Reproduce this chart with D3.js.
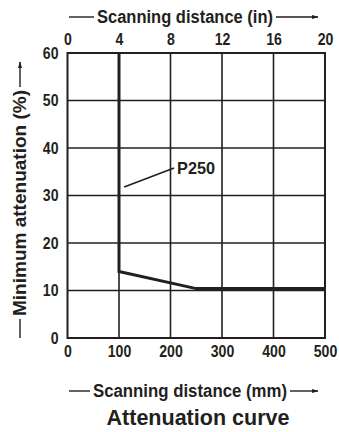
<!DOCTYPE html>
<html>
<head>
<meta charset="utf-8">
<script src="https://cdn.jsdelivr.net/npm/d3@7"></script>
<style>
  body { margin: 0; background: #fff; }
  text { font-family: "Liberation Sans", Arial, sans-serif; font-weight: bold; fill: #231f20; }
</style>
</head>
<body>
<div id="chart"></div>
<script>
// data
const mmTicks = [0, 100, 200, 300, 400, 500];
const inTicks = [0, 4, 8, 12, 16, 20];
const pctTicks = [0, 10, 20, 30, 40, 50, 60];
const curveX = [100, 100, 250, 500];
const curveY = [60, 14, 10.4, 10.4];
const labelName = "P250";
const leaderX = [110, 207];
const leaderY = [31.8, 35.8];

const width = 339, height = 432;
const margin = {top: 53, right: 14, bottom: 94, left: 67.5};
const innerW = width - margin.left - margin.right;
const innerH = height - margin.top - margin.bottom;
const ink = "#231f20";

const svg = d3.select('#chart')
    .append('svg')
    .attr('width', width)
    .attr('height', height);

// arrow head
svg.append('defs').append('marker')
    .attr('id', 'arrow')
    .attr('viewBox', '0 0 10 10')
    .attr('refX', 9).attr('refY', 5)
    .attr('markerWidth', 7).attr('markerHeight', 7)
    .attr('markerUnits', 'userSpaceOnUse')
    .attr('orient', 'auto')
    .append('path')
    .attr('d', 'M0,2 L10,5 L0,8 Z')
    .attr('fill', ink);

const g = svg.append('g')
    .attr('transform', `translate(${margin.left},${margin.top})`);

const x = d3.scaleLinear().domain([0, 500]).range([0, innerW]);
const xIn = d3.scaleLinear().domain([0, 20]).range([0, innerW]);
const y = d3.scaleLinear().domain([0, 60]).range([innerH, 0]);

// grid
g.append('g')
    .selectAll('line')
    .data(mmTicks.slice(1, -1))
    .enter().append('line')
    .attr('x1', d => x(d)).attr('x2', d => x(d))
    .attr('y1', 0).attr('y2', innerH)
    .attr('stroke', ink).attr('stroke-width', 1.6);

g.append('g')
    .selectAll('line')
    .data(pctTicks.slice(1, -1))
    .enter().append('line')
    .attr('x1', 0).attr('x2', innerW)
    .attr('y1', d => y(d)).attr('y2', d => y(d))
    .attr('stroke', ink).attr('stroke-width', 1.6);

// frame
g.append('rect')
    .attr('width', innerW).attr('height', innerH)
    .attr('fill', 'none')
    .attr('stroke', ink).attr('stroke-width', 2);

// axes (labels only)
const bottomAxis = g.append('g')
    .attr('transform', `translate(0,${innerH})`)
    .call(d3.axisBottom(x).tickValues(mmTicks).tickSize(0).tickPadding(8));
const topAxis = g.append('g')
    .call(d3.axisTop(xIn).tickValues(inTicks).tickSize(0).tickPadding(8));
const leftAxis = g.append('g')
    .call(d3.axisLeft(y).tickValues(pctTicks).tickSize(0).tickPadding(9));

// narrow, tall digits like the original print
[bottomAxis, topAxis, leftAxis].forEach(a => {
    a.select('.domain').remove();
    a.selectAll('text')
        .attr('font-family', '"Liberation Sans", Arial, sans-serif')
        .attr('font-weight', 'bold')
        .attr('font-size', 16)
        .attr('fill', ink)
        .each(function () {
            const w = this.getComputedTextLength();
            d3.select(this)
                .attr('textLength', w * 0.88)
                .attr('lengthAdjust', 'spacingAndGlyphs');
        });
});

// curve
const pts = curveX.map((d, i) => [d, curveY[i]]);
g.append('path')
    .datum(pts)
    .attr('fill', 'none')
    .attr('stroke', ink)
    .attr('stroke-width', 3)
    .attr('stroke-linejoin', 'miter')
    .attr('d', d3.line().x(d => x(d[0])).y(d => y(d[1])));

// P250 label
g.append('line')
    .attr('x1', x(leaderX[0])).attr('y1', y(leaderY[0]))
    .attr('x2', x(leaderX[1])).attr('y2', y(leaderY[1]))
    .attr('stroke', ink).attr('stroke-width', 1.6);
g.append('text')
    .attr('x', x(leaderX[1]) + 3)
    .attr('y', y(leaderY[1]))
    .attr('dy', '0.35em')
    .attr('font-size', 17)
    .attr('textLength', 38)
    .attr('lengthAdjust', 'spacingAndGlyphs')
    .text(labelName);

// axis titles with arrows
function arrowTitle(cx, cy, txt, len, leftLen, rightLen, rotate) {
    const t = svg.append('g')
        .attr('transform', `translate(${cx},${cy})` + (rotate ? ' rotate(-90)' : ''));
    t.append('text')
        .attr('text-anchor', 'middle')
        .attr('dy', '0.35em')
        .attr('font-size', 17.5)
        .attr('textLength', len)
        .attr('lengthAdjust', 'spacingAndGlyphs')
        .text(txt);
    t.append('line')
        .attr('x1', -len / 2 - 3 - leftLen).attr('x2', -len / 2 - 3)
        .attr('y1', 0).attr('y2', 0)
        .attr('stroke', ink).attr('stroke-width', 1.4);
    t.append('line')
        .attr('x1', len / 2 + 3).attr('x2', len / 2 + 3 + rightLen)
        .attr('y1', 0).attr('y2', 0)
        .attr('stroke', ink).attr('stroke-width', 1.4)
        .attr('marker-end', 'url(#arrow)');
}

arrowTitle(185, 17, 'Scanning distance (in)', 176, 25, 42, false);
arrowTitle(190, 391, 'Scanning distance (mm)', 194, 21, 28, false);
arrowTitle(20, 203, 'Minimum attenuation (%)', 226, 19, 25, true);

svg.append('text')
    .attr('x', 198)
    .attr('y', 417)
    .attr('text-anchor', 'middle')
    .attr('dy', '0.35em')
    .attr('font-size', 22)
    .attr('textLength', 183)
    .attr('lengthAdjust', 'spacingAndGlyphs')
    .text('Attenuation curve');
</script>
</body>
</html>
